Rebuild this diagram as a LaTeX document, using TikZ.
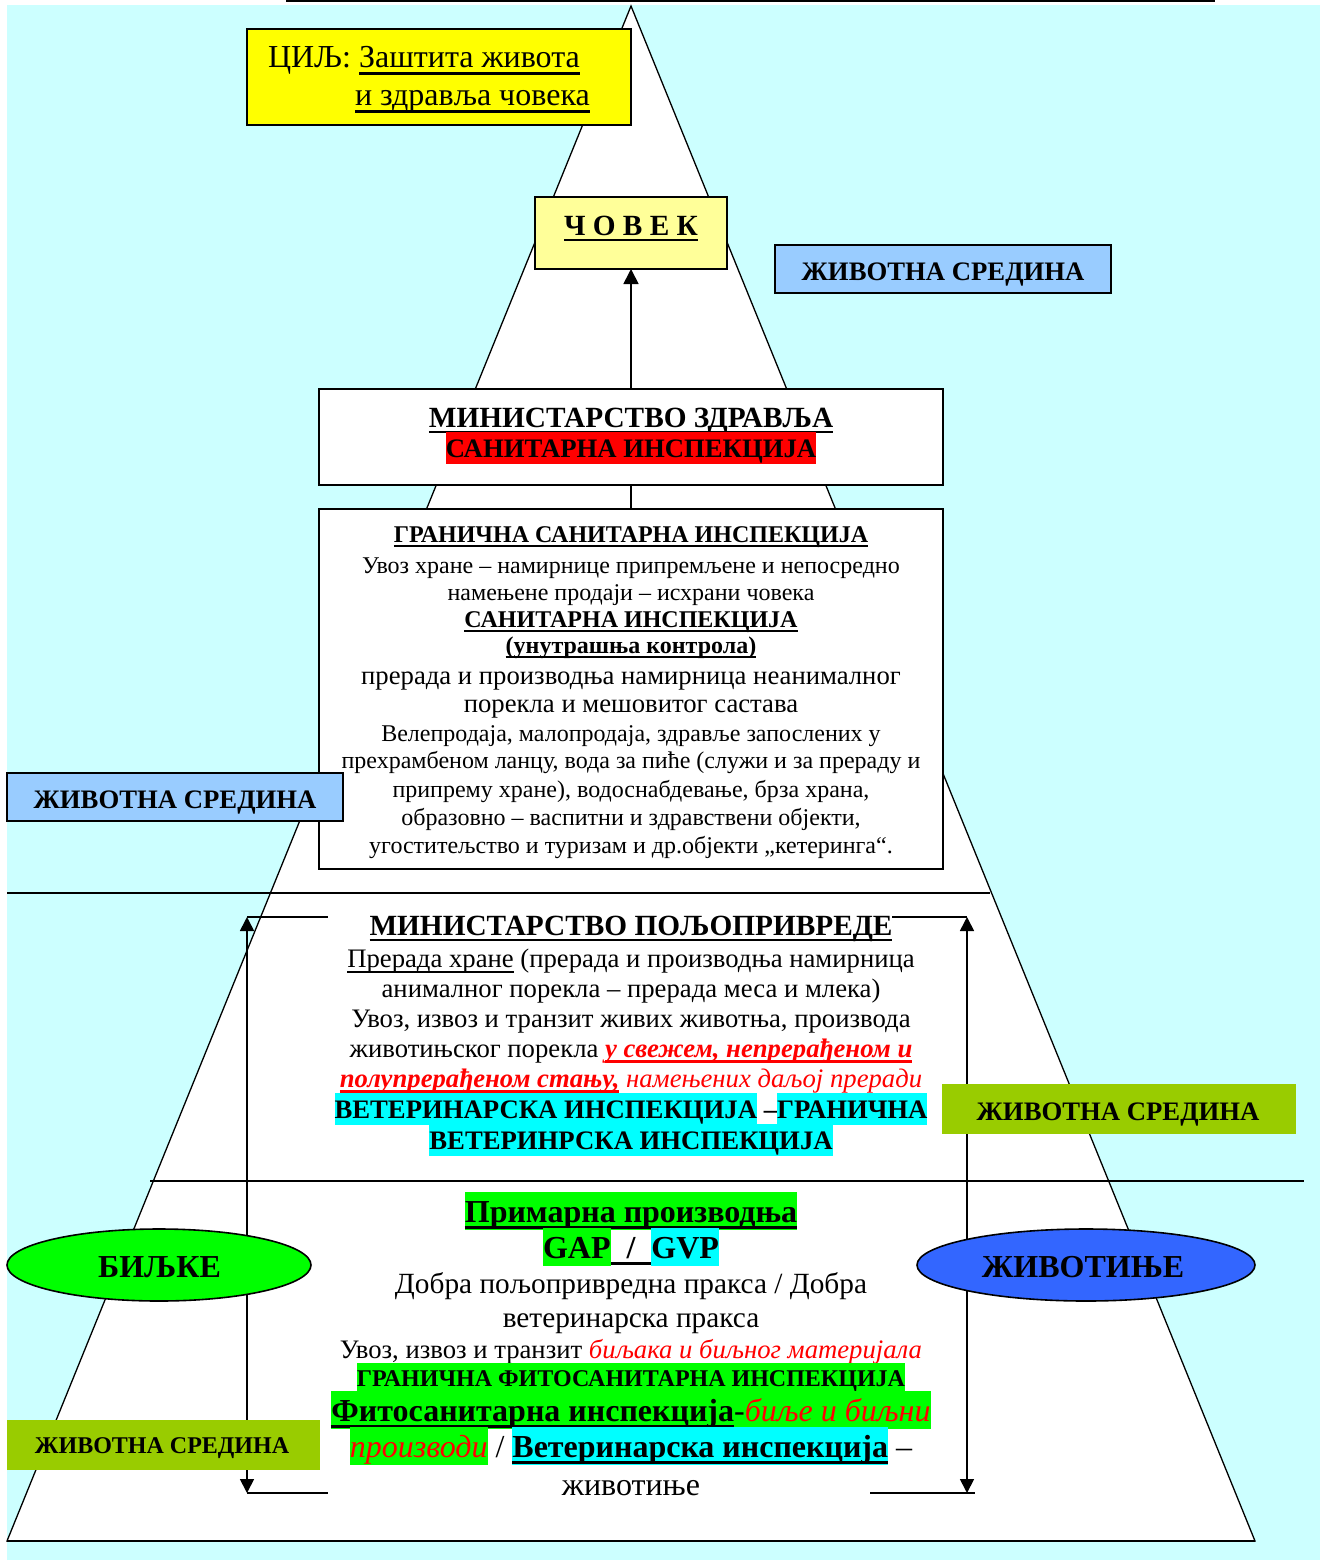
\documentclass[tikz,border=0pt]{standalone}
\usepackage{fontspec}
\setmainfont{Liberation Serif}
\usetikzlibrary{arrows.meta,shapes.geometric}
\definecolor{bgc}{HTML}{CCFFFF}
\definecolor{yel}{HTML}{FFFF00}
\definecolor{lyel}{HTML}{FFFF99}
\definecolor{lblue}{HTML}{99CCFF}
\definecolor{olv}{HTML}{99CC00}
\definecolor{grn}{HTML}{00FF00}
\definecolor{blu}{HTML}{3366FF}
\definecolor{cya}{HTML}{00FFFF}
\definecolor{rd}{HTML}{FF0000}
\newcommand\fsz[1]{\fontsize{#1}{#1}\selectfont}
\newcommand\myul[2][0.09em]{\setbox0\hbox{#2}\makebox[0pt][l]{\rule[-0.21em]{\wd0}{#1}}\box0\relax}
\newcommand\hlc[2]{{\setlength\fboxsep{0pt}\colorbox{#1}{\vrule height 0.95em depth 0.25em width 0pt #2}}}
\tikzset{
  bx/.style={draw, line width=2pt, inner sep=0pt, outer sep=0pt},
  txt/.style={anchor=base, inner sep=0pt, outer sep=0pt},
  ln/.style={line width=2pt},
  br/.style={line width=1.7pt},
  arr/.style={line width=1.7pt, {Triangle[length=14pt,width=14pt]}-{Triangle[length=14pt,width=14pt]}},
}
\begin{document}
\begin{tikzpicture}[x=1pt,y=-1pt]
\useasboundingbox (0,0) rectangle (1320,1560);
\fill[bgc] (7,5) rectangle (1320,1560);
\draw[line width=2pt] (286,1) -- (1215,1);
% pyramid
\coordinate (apex) at (631,6);
\coordinate (bl) at (7,1541);
\coordinate (brr) at (1255,1541);
\draw[fill=white, line width=1.3pt] (apex) -- (brr) -- (bl) -- cycle;
\draw[line width=2.5pt] (bl) -- (brr);
% horizontal divisions
\coordinate (h1a) at (7,893);
\coordinate (h1b) at (990,893);
\coordinate (h2a) at (150,1181);
\coordinate (h2b) at (1304,1181);
\draw[ln] (h1a) -- (h1b);
\draw[ln] (h2a) -- (h2b);
% brackets
\coordinate (lt) at (247,917);
\coordinate (lb) at (247,1493);
\coordinate (lte) at (328,917);
\coordinate (lbe) at (328,1493);
\coordinate (rt) at (967,917);
\coordinate (rb) at (967,1493);
\coordinate (rte) at (892,917);
\coordinate (rbe) at (870,1493);
\coordinate (rbx) at (975,1493);
\draw[arr] (lt) -- (lb);
\draw[br] (lt) -- (lte);
\draw[br] (lb) -- (lbe);
\draw[arr] (rt) -- (rb);
\draw[br] (rte) -- (rt);
\draw[br] (rbe) -- (rbx);
% boxes
\node[bx, fill=yel, minimum width=384pt, minimum height=96pt] (goal) at (439,77) {};
\node[bx, fill=lyel, minimum width=192pt, minimum height=72pt] (chovek) at (631,233) {};
\node[bx, fill=lblue, minimum width=336pt, minimum height=48pt] (envtop) at (943,269) {};
\node[bx, fill=white, minimum width=624pt, minimum height=96pt] (zdr) at (631,437) {};
\node[bx, fill=white, minimum width=624pt, minimum height=360pt] (san) at (631,689) {};
\node[bx, fill=lblue, minimum width=336pt, minimum height=48pt] (envleft) at (175,797) {};
\node[fill=olv, inner sep=0pt, minimum width=354pt, minimum height=50pt] (envright) at (1119,1109) {};
\node[fill=olv, inner sep=0pt, minimum width=313pt, minimum height=50pt] (envbot) at (163.5,1445) {};
\node[ellipse, draw, line width=1.6pt, fill=grn, inner sep=0pt, minimum width=304pt, minimum height=72pt] (bilj) at (159,1265) {};
\node[ellipse, draw, line width=1.6pt, fill=blu, inner sep=0pt, minimum width=338pt, minimum height=72pt] (zivot) at (1086,1265) {};
% connectors
\draw[line width=1.7pt, -{Triangle[length=15pt,width=15pt]}] (zdr.north) -- (chovek.south);
\draw[line width=1.7pt] (zdr.south) -- (san.north);
% texts top
\node[txt, anchor=base west] (g1) at (268,68) {\fsz{32}ЦИЉ: \myul[0.07em]{Заштита живота}};
\node[txt, anchor=base west] (g2) at (355,106) {\fsz{32}\myul[0.07em]{и здравља човека}};
\node[txt] (chT) at (631,235) {\fsz{29.3}\bfseries\myul{Ч О В Е К}};
\node[txt] (envtopT) at (943,280) {\fsz{26.7}\bfseries ЖИВОТНА СРЕДИНА};
\node[txt] (envleftT) at (175,808) {\fsz{26.7}\bfseries ЖИВОТНА СРЕДИНА};
\node[txt] (envrightT) at (1118,1120) {\fsz{26.7}\bfseries ЖИВОТНА СРЕДИНА};
\node[txt] (envbotT) at (162,1453) {\fsz{24}\bfseries ЖИВОТНА СРЕДИНА};
\node[txt] (biljT) at (159.5,1277) {\fsz{32}\bfseries БИЉКЕ};
\node[txt] (zivotT) at (1083,1277) {\fsz{32}\bfseries ЖИВОТИЊЕ};
% ministry of health
\node[txt] (z1) at (631,427) {\fsz{29.3}\bfseries\myul{МИНИСТАРСТВО ЗДРАВЉА}};
\node[txt] (z2) at (631,457) {\fsz{26.7}\bfseries\hlc{rd}{САНИТАРНА ИНСПЕКЦИЈА}};
% sanitary box
\node[txt] (s1) at (631,542) {\fsz{24}\bfseries\myul{ГРАНИЧНА САНИТАРНА ИНСПЕКЦИЈА}};
\node[txt] (s2) at (631,573) {\fsz{24}Увоз хране – намирнице припремљене и непосредно};
\node[txt] (s3) at (631,600) {\fsz{24}намењене продаји – исхрани човека};
\node[txt] (s4) at (631,627) {\fsz{24}\bfseries\myul{САНИТАРНА ИНСПЕКЦИЈА}};
\node[txt] (s5) at (631,653) {\fsz{24}\bfseries\myul{(унутрашња контрола)}};
\node[txt] (s6) at (631,684) {\fsz{26.7}прерада и производња намирница неанималног};
\node[txt] (s7) at (631,712) {\fsz{26.7}порекла и мешовитог састава};
\node[txt] (s8) at (631,741) {\fsz{24}Велепродаја, малопродаја, здравље запослених у};
\node[txt] (s9) at (631,768) {\fsz{24}прехрамбеном ланцу, вода за пиће (служи и за прераду и};
\node[txt] (s10) at (631,797) {\fsz{24}припрему хране), водоснабдевање, брза храна,};
\node[txt] (s11) at (631,825) {\fsz{24}образовно – васпитни и здравствени објекти,};
\node[txt] (s12) at (631,853) {\fsz{24}угоститељство и туризам и др.објекти „кетеринга“.};
% agriculture
\node[txt] (m1) at (631,935) {\fsz{29.3}\bfseries\myul{МИНИСТАРСТВО ПОЉОПРИВРЕДЕ}};
\node[txt] (m2) at (631,967) {\fsz{26.7}\myul[0.05em]{Прерада хране} (прерада и производња намирница};
\node[txt] (m3) at (631,997) {\fsz{26.7}анималног порекла – прерада меса и млека)};
\node[txt] (m4) at (631,1027) {\fsz{26.7}Увоз, извоз и транзит живих животња, производа};
\node[txt] (m5) at (631,1057) {\fsz{26.7}животињског порекла {\color{rd}\bfseries\itshape\myul{у свежем, непрерађеном и}}};
\node[txt] (m6) at (631,1087) {\fsz{26.7}{\color{rd}\itshape{\bfseries\myul{полупрерађеном стању,}} намењених даљој преради}};
\node[txt] (m7) at (631,1118) {\fsz{26.7}\bfseries\hlc{cya}{ВЕТЕРИНАРСКА ИНСПЕКЦИЈА} –\hlc{cya}{ГРАНИЧНА}};
\node[txt] (m8) at (631,1149) {\fsz{26.7}\bfseries\hlc{cya}{ВЕТЕРИНРСКА ИНСПЕКЦИЈА}};
% primary production
\node[txt] (p1) at (631,1222) {\fsz{32}\bfseries\hlc{grn}{\myul{Примарна производња}}};
\node[txt] (p2) at (631,1258) {\fsz{32}\bfseries\myul{\hlc{grn}{GAP}\ \ /\ \ \hlc{cya}{GVP}}};
\node[txt] (p3) at (631,1293) {\fsz{29.3}Добра пољопривредна пракса / Добра};
\node[txt] (p4) at (631,1327) {\fsz{29.3}ветеринарска пракса};
\node[txt] (p5) at (631,1358) {\fsz{26.7}Увоз, извоз и транзит {\color{rd}\itshape биљака и биљног материјала}};
\node[txt] (p6) at (631,1386) {\fsz{24}\bfseries\hlc{grn}{ГРАНИЧНА ФИТОСАНИТАРНА ИНСПЕКЦИЈА}};
\node[txt] (p7) at (631,1421) {\fsz{32}\hlc{grn}{{\bfseries\myul{Фитосанитарна инспекција}}-{\color{rd}\itshape биље и биљни}}};
\node[txt] (p8) at (631,1457) {\fsz{32}\hlc{grn}{\color{rd}\itshape производи} / {\bfseries\hlc{cya}{\myul{Ветеринарска инспекција}}} –};
\node[txt] (p9) at (631,1495) {\fsz{32}животиње};
\end{tikzpicture}
\end{document}
